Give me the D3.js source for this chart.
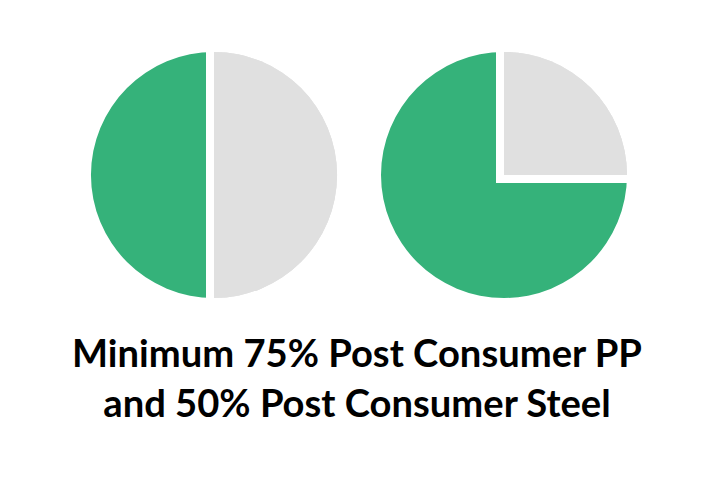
<!DOCTYPE html>
<html>
<head>
<meta charset="utf-8">
<script src="https://cdn.jsdelivr.net/npm/d3@7"></script>
<style>
  html, body { margin: 0; padding: 0; background: #ffffff; }
  svg { display: block; }
</style>
</head>
<body>
<svg id="chart" width="725" height="478"></svg>
<script>
// ---- data ----
const charts = ["Post Consumer Steel", "Post Consumer PP"];
const recycledShare = [50, 75];      // % post consumer (green)
const otherShare = [50, 25];         // remainder (grey)
const categories = ["Post Consumer", "Other"];
const titleLines = ["Minimum 75% Post Consumer PP", "and 50% Post Consumer Steel"];

const colors = d3.scaleOrdinal().domain(categories).range(["#35b27a", "#e0e0e0"]);

const W = 725, H = 478;
const svg = d3.select("#chart");
svg.append("rect").attr("width", W).attr("height", H).attr("fill", "#fff");

const radius = 123;
const centers = d3.scalePoint().domain(charts).range([214, 504]);
const cy = 175;
const gap = 8;

const arc = d3.arc().innerRadius(0).outerRadius(radius);

charts.forEach((name, i) => {
  const data = [
    { cat: categories[0], value: recycledShare[i] },
    { cat: categories[1], value: otherShare[i] }
  ];
  // grey portion starts at 12 o'clock going clockwise; green fills the rest
  const arcs = d3.pie().sort(null).value(d => d.value)
    .startAngle(-2 * Math.PI * recycledShare[i] / 100)
    .endAngle(2 * Math.PI * otherShare[i] / 100)(data);
  const g = svg.append("g").attr("transform", `translate(${centers(name)},${cy})`);
  g.selectAll("path").data(arcs).join("path")
    .attr("d", arc)
    .attr("fill", d => colors(d.data.cat));

  // white separators, placed on the green side of each boundary
  const a0 = arcs[0].startAngle, a1 = arcs[0].endAngle; // green spans a0..a1
  [a1, a0 + 2 * Math.PI].forEach((ang, k) => {
    const dx = Math.sin(ang), dy = -Math.cos(ang);
    const sign = k === 0 ? -1 : 1;
    const nx = sign * Math.cos(ang), ny = sign * Math.sin(ang);
    const off = gap / 2;
    g.append("line")
      .attr("x1", nx * off - dx * gap).attr("y1", ny * off - dy * gap)
      .attr("x2", nx * off + dx * (radius + 2)).attr("y2", ny * off + dy * (radius + 2))
      .attr("stroke", "#fff").attr("stroke-width", gap);
  });
  // restore grey edge where the separator overlapped it (keeps grey full size)
  g.append("path").datum(arcs[1]).attr("d", arc).attr("fill", colors(categories[1]));
});

// title
const fontFamily = "Lato, 'DejaVu Sans', sans-serif";
const baselines = [367, 417];
const texts = svg.append("g").selectAll("text").data(titleLines).join("text")
  .attr("x", 357)
  .attr("y", (d, i) => baselines[i])
  .attr("text-anchor", "middle")
  .attr("font-family", fontFamily)
  .attr("font-weight", 700)
  .attr("fill", "#000")
  .attr("font-size", 34)
  .text(d => d);
const w0 = texts.nodes()[0].getComputedTextLength();
texts.attr("font-size", 34 * 570 / w0);
</script>
</body>
</html>
